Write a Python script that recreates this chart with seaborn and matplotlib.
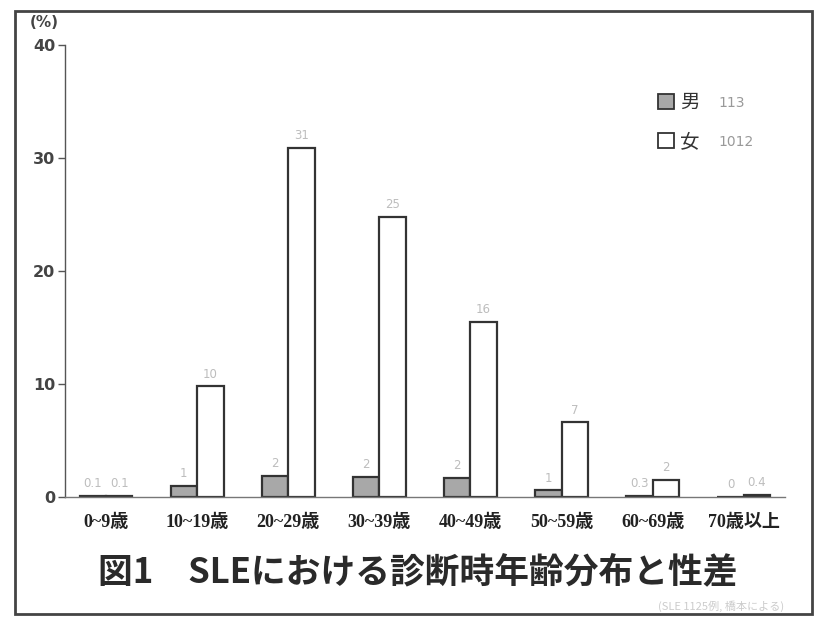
import matplotlib
matplotlib.use("Agg")
import matplotlib.pyplot as plt
import seaborn as sns
import pandas as pd
from matplotlib.patches import Rectangle

sns.set_theme(style="white")
plt.rcParams['font.family'] = ['DejaVu Sans', 'Noto Sans CJK JP']

# data
age_groups = ['0~9歳', '10~19歳', '20~29歳', '30~39歳', '40~49歳', '50~59歳', '60~69歳', '70歳以上']
male_pct = [0.1, 1.0, 1.9, 1.8, 1.7, 0.6, 0.1, 0.0]
female_pct = [0.1, 9.8, 30.9, 24.8, 15.5, 6.6, 1.5, 0.2]
male_labels = ['0.1', '1', '2', '2', '2', '1', '0.3', '0']
female_labels = ['0.1', '10', '31', '25', '16', '7', '2', '0.4']
sexes = ['男', '女']
counts = ['113', '1012']

df = pd.concat([
    pd.DataFrame({'age': age_groups, 'sex': sexes[0], 'pct': male_pct}),
    pd.DataFrame({'age': age_groups, 'sex': sexes[1], 'pct': female_pct}),
])

fig = plt.figure(figsize=(8.15, 6.17), dpi=100)
ax = fig.add_axes([0.0798, 0.1945, 0.883, 0.7326])

sns.barplot(data=df, x='age', y='pct', hue='sex', order=age_groups, hue_order=sexes,
            palette={'男': '#a8a8a8', '女': 'white'}, edgecolor='#333333', linewidth=1.6,
            width=0.58, ax=ax, legend=False)

for cont, labs in zip(ax.containers, [male_labels, female_labels]):
    ax.bar_label(cont, labels=labs, padding=4, fontsize=8.5, color='#bdbdbd')

ax.set_ylim(0, 40)
ax.set_xlim(-0.45, 7.45)
ax.set_yticks([0, 10, 20, 30, 40])
ax.set_xlabel('')
ax.set_ylabel('')
sns.despine(ax=ax)
ax.spines['left'].set_color('#555555')
ax.spines['bottom'].set_color('#777777')
ax.spines['left'].set_linewidth(1.0)
ax.spines['bottom'].set_linewidth(1.0)
ax.tick_params(axis='y', left=True, length=5, width=1, color='#555555', pad=2,
               labelsize=11.5, labelcolor='#444444')
for t in ax.get_yticklabels():
    t.set_fontweight('bold')
ax.tick_params(axis='x', bottom=False, pad=6)
for t in ax.get_xticklabels():
    t.set_family(['Liberation Serif', 'Noto Sans CJK JP'])
    t.set_fontsize(13)
    t.set_fontweight('bold')
    t.set_color('#222222')

# legend
handles = [Rectangle((0, 0), 1, 1, facecolor='#a8a8a8', edgecolor='#333333', linewidth=1.3),
           Rectangle((0, 0), 1, 1, facecolor='white', edgecolor='#333333', linewidth=1.3)]
leg = ax.legend(handles, sexes, loc='upper left', bbox_to_anchor=(0.8, 0.935), frameon=False,
                handlelength=0.8, handleheight=0.8, handletextpad=0.3,
                labelspacing=0.95, prop={'family': ['Noto Sans CJK JP'], 'size': 14})
for t in leg.get_texts():
    t.set_color('#333333')
for c, y in zip(counts, [0.872, 0.785]):
    ax.text(0.908, y, c, transform=ax.transAxes, fontsize=10, color='#999999', va='center', ha='left')

fig.text(0.037, 0.964, '(%)', fontsize=11, fontweight='bold', color='#444444', va='center')

fig.text(0.513, 0.073, '図1　SLEにおける診断時年齢分布と性差', fontsize=25, fontweight='bold',
         color='#2a2a2a', ha='center', va='center', family=['Noto Sans CJK JP'])
fig.text(0.885, 0.018, '(SLE 1125例, 橋本による)', fontsize=8, color='#cccccc', ha='center',
         va='center', family=['Noto Sans CJK JP'])

fig.patches.append(Rectangle((0.018, 0.005), 0.978, 0.977, transform=fig.transFigure,
                             fill=False, edgecolor='#444444', linewidth=2))

fig.savefig('out.png', dpi=100)
